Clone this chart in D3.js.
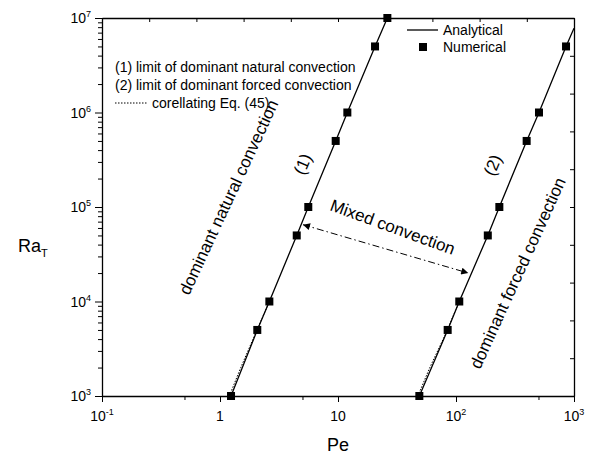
<!DOCTYPE html>
<html>
<head>
<meta charset="utf-8">
<script src="https://cdn.jsdelivr.net/npm/d3@7/dist/d3.min.js"></script>
<style>
  body { margin: 0; background: #fff; }
  svg { display: block; font-family: "Liberation Sans", Arial, sans-serif; }
</style>
</head>
<body>
<svg id="chart" width="593" height="456"></svg>
<script>
// ---- data ----
const raLevels = [1e3, 5e3, 1e4, 5e4, 1e5, 5e5, 1e6, 5e6, 1e7];
const peNaturalNum = [1.24, 2.07, 2.62, 4.47, 5.6, 9.56, 12.0, 20.6, 26.2];
const raForcedNum = [1e3, 5e3, 1e4, 5e4, 1e5, 5e5, 1e6, 5e6];
const peForcedNum = [48.9, 85, 106.6, 186, 233, 397, 505, 856];
// analytical curves
const peNaturalAna = [1.24, 2.07, 2.62, 4.47, 5.6, 9.56, 12.0, 20.6, 26.2];
const raNaturalAna = [1e3, 5e3, 1e4, 5e4, 1e5, 5e5, 1e6, 5e6, 1e7];
const peForcedAna = [48.9, 85, 106.6, 186, 233, 397, 505, 856, 1000];
const raForcedAna = [1e3, 5e3, 1e4, 5e4, 1e5, 5e5, 1e6, 5e6, 7.8e6];
// correlating Eq. (45) (dotted)
const peNaturalCor = [1.2, 1.5, 2.0, 2.62];
const raNaturalCor = [1e3, 2e3, 4.6e3, 1e4];
const peForcedCor = [47.5, 60, 80, 106.6];
const raForcedCor = [1e3, 2e3, 4.3e3, 1e4];
// ticks
const xMajor = [0.1, 1, 10, 100, 1000];
const xMajorLabels = [["10", "-1"], ["1", ""], ["10", ""], ["10", "2"], ["10", "3"]];
const xMinor = [0.5, 5, 50, 500];
const yMajor = [1e3, 1e4, 1e5, 1e6, 1e7];
const yMajorLabels = [["10", "3"], ["10", "4"], ["10", "5"], ["10", "6"], ["10", "7"]];
const legendLines = ["(1) limit of dominant natural convection", "(2) limit of dominant forced convection", "corellating Eq. (45)"];

// ---- layout ----
const L = 102, R = 574, T = 18, B = 396;
const svg = d3.select("#chart");
const x = d3.scaleLog().domain([0.1, 1000]).range([L, R]);
const y = d3.scaleLog().domain([1e3, 1e7]).range([B, T]);

const yMinor = [];
for (let d = 3; d < 7; d++) for (let k = 2; k <= 9; k++) yMinor.push(k * Math.pow(10, d));

// clip
svg.append("defs").append("clipPath").attr("id", "clip")
  .append("rect").attr("x", L).attr("y", T).attr("width", R - L).attr("height", B - T);

// axes
const axStyle = g => { g.select(".domain").attr("stroke", "#000").attr("stroke-width", 1.3);
  g.selectAll(".tick line").attr("stroke", "#000").attr("stroke-width", 1); g.selectAll("text").remove(); };

svg.append("g").attr("transform", `translate(0,${B})`)
  .call(d3.axisBottom(x).tickValues(xMajor).tickSize(6).tickSizeOuter(0).tickFormat("")).call(axStyle);
svg.append("g").attr("transform", `translate(0,${B})`)
  .call(d3.axisBottom(x).tickValues(xMinor).tickSize(4).tickSizeOuter(0).tickFormat("")).call(axStyle)
  .select(".domain").remove();
svg.append("g").attr("transform", `translate(${L},0)`)
  .call(d3.axisLeft(y).tickValues(yMajor).tickSize(7).tickSizeOuter(0).tickFormat("")).call(axStyle);
svg.append("g").attr("transform", `translate(${L},0)`)
  .call(d3.axisLeft(y).tickValues(yMinor).tickSize(4).tickSizeOuter(0).tickFormat("")).call(axStyle)
  .select(".domain").remove();
// top & right axes (inward ticks, evenly spaced)
const xTop = d3.scaleLinear().domain([0, 10]).range([L, R]);
const yRight = d3.scaleLinear().domain([0, 10]).range([B, T]);
svg.append("g").attr("transform", `translate(0,${T})`)
  .call(d3.axisTop(xTop).ticks(10).tickSize(-4).tickSizeOuter(0).tickFormat("")).call(axStyle);
svg.append("g").attr("transform", `translate(${R},0)`)
  .call(d3.axisRight(yRight).ticks(10).tickSize(-4).tickSizeOuter(0).tickFormat("")).call(axStyle);

// tick labels
xMajor.forEach((v, i) => {
  const t = svg.append("text").attr("x", x(v)).attr("y", 421).attr("text-anchor", "middle")
    .attr("font-size", 14);
  t.append("tspan").text(xMajorLabels[i][0]);
  if (xMajorLabels[i][1]) t.append("tspan").attr("dy", -6).attr("font-size", 9).text(xMajorLabels[i][1]);
});
yMajor.forEach((v, i) => {
  const t = svg.append("text").attr("x", 91).attr("y", y(v) + 5).attr("text-anchor", "end")
    .attr("font-size", 14);
  t.append("tspan").text(yMajorLabels[i][0]);
  t.append("tspan").attr("dy", -6).attr("font-size", 9).text(yMajorLabels[i][1]);
});

// axis titles
svg.append("text").attr("x", 338).attr("y", 451).attr("text-anchor", "middle").attr("font-size", 18).text("Pe");
const yt = svg.append("text").attr("x", 18).attr("y", 252).attr("font-size", 18);
yt.append("tspan").text("Ra");
yt.append("tspan").attr("dy", 5).attr("font-size", 11).text("T");

// lines
const line = d3.line().x(d => x(d[0])).y(d => y(d[1]));
const plot = svg.append("g").attr("clip-path", "url(#clip)");
plot.append("path").datum(d3.zip(peNaturalAna, raNaturalAna)).attr("d", line)
  .attr("fill", "none").attr("stroke", "#000").attr("stroke-width", 1.3);
plot.append("path").datum(d3.zip(peForcedAna, raForcedAna)).attr("d", line)
  .attr("fill", "none").attr("stroke", "#000").attr("stroke-width", 1.3);
plot.append("path").datum(d3.zip(peNaturalCor, raNaturalCor)).attr("d", line)
  .attr("fill", "none").attr("stroke", "#000").attr("stroke-width", 1).attr("stroke-dasharray", "1.5,1.5");
plot.append("path").datum(d3.zip(peForcedCor, raForcedCor)).attr("d", line)
  .attr("fill", "none").attr("stroke", "#000").attr("stroke-width", 1).attr("stroke-dasharray", "1.5,1.5");

// numerical markers
const sq = 8;
svg.append("g").selectAll("rect.n").data(d3.zip(peNaturalNum, raLevels)).join("rect")
  .attr("x", d => x(d[0]) - sq / 2).attr("y", d => y(d[1]) - sq / 2).attr("width", sq).attr("height", sq).attr("fill", "#000");
svg.append("g").selectAll("rect.f").data(d3.zip(peForcedNum, raForcedNum)).join("rect")
  .attr("x", d => x(d[0]) - sq / 2).attr("y", d => y(d[1]) - sq / 2).attr("width", sq).attr("height", sq).attr("fill", "#000");

// legend (top right)
svg.append("line").attr("x1", 407).attr("x2", 438).attr("y1", 30).attr("y2", 30).attr("stroke", "#000").attr("stroke-width", 1.3);
svg.append("text").attr("x", 443).attr("y", 35).attr("font-size", 14).text("Analytical");
svg.append("rect").attr("x", 423 - sq / 2).attr("y", 47 - sq / 2).attr("width", sq).attr("height", sq).attr("fill", "#000");
svg.append("text").attr("x", 443).attr("y", 52).attr("font-size", 14).text("Numerical");

// text legend (top left)
svg.append("text").attr("x", 115).attr("y", 72).attr("font-size", 14).text(legendLines[0]);
svg.append("text").attr("x", 115).attr("y", 90).attr("font-size", 14).text(legendLines[1]);
svg.append("line").attr("x1", 115).attr("x2", 148).attr("y1", 103).attr("y2", 103)
  .attr("stroke", "#000").attr("stroke-width", 1).attr("stroke-dasharray", "1.5,1.5");
svg.append("text").attr("x", 152).attr("y", 108).attr("font-size", 14).text(legendLines[2]);

// rotated annotations
function rotText(px, py, ang, str, size) {
  svg.append("text").attr("transform", `translate(${px},${py}) rotate(${ang})`)
    .attr("font-size", size).text(str);
}
rotText(189, 296, -65, "dominant natural convection", 17);
rotText(480, 370, -65.5, "dominant forced convection", 17);
rotText(304, 176, -67, "(1)", 17);
rotText(494, 177, -67, "(2)", 17);
rotText(329, 210, 20, "Mixed convection", 17);

// mixed convection double arrow
const a1 = [x(4.95), y(6.5e4)], a2 = [x(127), y(2e4)];
svg.append("defs").html(
  '<marker id="ah" viewBox="0 0 10 10" refX="10" refY="5" markerWidth="9" markerHeight="7" orient="auto-start-reverse" markerUnits="userSpaceOnUse">' +
  '<path d="M0,0 L10,5 L0,10 z" fill="#000"/></marker>');
svg.append("line").attr("x1", a1[0] + 1).attr("y1", a1[1]).attr("x2", a2[0]).attr("y2", a2[1])
  .attr("stroke", "#000").attr("stroke-width", 1).attr("stroke-dasharray", "7,3,1.5,3")
  .attr("marker-start", "url(#ah)").attr("marker-end", "url(#ah)");
</script>
</body>
</html>
